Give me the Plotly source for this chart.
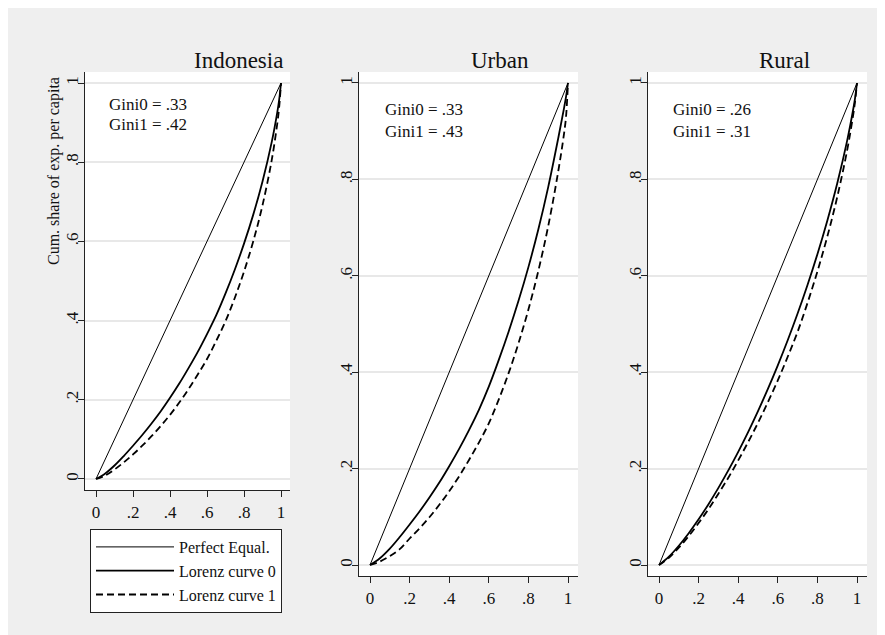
import plotly.graph_objects as go

# ---------------- data ----------------
p_share = [0, 0.05, 0.1, 0.15, 0.2, 0.25, 0.3, 0.35, 0.4, 0.45, 0.5,
           0.55, 0.6, 0.65, 0.7, 0.75, 0.8, 0.85, 0.9, 0.95, 0.98, 0.99, 1]

indo_l0 = [0, 0.014, 0.034, 0.058, 0.084, 0.111, 0.140, 0.171, 0.205, 0.241, 0.280,
           0.321, 0.366, 0.4137, 0.4686, 0.5285, 0.5943, 0.6676, 0.7514, 0.8513, 0.9266, 0.9576, 1]
indo_l1 = [0, 0.009, 0.024, 0.042, 0.062, 0.084, 0.108, 0.134, 0.162, 0.193, 0.227,
           0.264, 0.303, 0.349, 0.3984, 0.4572, 0.5238, 0.6004, 0.6913, 0.8059, 0.8983, 0.9387, 1]
urban_l0 = [0, 0.014, 0.034, 0.058, 0.084, 0.111, 0.140, 0.171, 0.205, 0.241, 0.280,
            0.322, 0.370, 0.425, 0.484, 0.548, 0.618, 0.696, 0.784, 0.884, 0.948, 0.971, 1]
urban_l1 = [0, 0.0072, 0.0186, 0.0329, 0.055, 0.076, 0.099, 0.125, 0.153, 0.184, 0.218,
            0.254, 0.294, 0.343, 0.398, 0.460, 0.530, 0.610, 0.703, 0.815, 0.895, 0.930, 1]
rural_l0 = [0, 0.0172, 0.0399, 0.066, 0.0948, 0.1262, 0.16, 0.1962, 0.2348, 0.2757, 0.3192,
            0.3653, 0.4142, 0.4662, 0.5217, 0.581, 0.6449, 0.7144, 0.7915, 0.88, 0.9434, 0.9683, 1]
rural_l1 = [0, 0.015, 0.036, 0.060, 0.087, 0.116, 0.148, 0.181, 0.217, 0.255, 0.295,
            0.338, 0.383, 0.432, 0.4838, 0.5436, 0.609, 0.6813, 0.7632, 0.8599, 0.9318, 0.9609, 1]

equal_x = [0, 1]
equal_y = [0, 1]

panel_titles = ["Indonesia", "Urban", "Rural"]
gini0 = [".33", ".33", ".26"]
gini1 = [".42", ".43", ".31"]

tick_vals = [0, 0.2, 0.4, 0.6, 0.8, 1]
tick_text = ["0", ".2", ".4", ".6", ".8", "1"]

legend_names = ["Perfect Equal.", "Lorenz curve 0", "Lorenz curve 1"]
y_title = "Cum. share of exp. per capita"

# ---------------- figure ----------------
OFF = 8                      # page offset of the plot div (body margin)
W, H = 885 - OFF, 635 - OFF  # figure fills the rest of the window
FONT = "Liberation Serif"
BG = "#efefef"
INK = "#111111"

def px(x):
    return (x - OFF) / W

def py(y):
    return 1 - (y - OFF) / H

fig = go.Figure()

curves = [(indo_l0, indo_l1), (urban_l0, urban_l1), (rural_l0, rural_l1)]
for i, (l0, l1) in enumerate(curves):
    ax = "" if i == 0 else str(i + 1)
    show = i == 0
    fig.add_trace(go.Scatter(x=equal_x, y=equal_y, mode="lines", name=legend_names[0],
                             line=dict(color="black", width=1), showlegend=show,
                             xaxis="x" + ax, yaxis="y" + ax, hoverinfo="skip"))
    fig.add_trace(go.Scatter(x=p_share, y=l0, mode="lines", name=legend_names[1],
                             line=dict(color="black", width=1.8, shape="spline"), showlegend=show,
                             xaxis="x" + ax, yaxis="y" + ax, hoverinfo="skip"))
    fig.add_trace(go.Scatter(x=p_share, y=l1, mode="lines", name=legend_names[2],
                             line=dict(color="black", width=1.8, dash="7px,4px", shape="spline"),
                             showlegend=show,
                             xaxis="x" + ax, yaxis="y" + ax, hoverinfo="skip"))

# panel geometry (page pixels)
x_dom = [(85, 290), (359, 578), (648, 867)]
y_dom = [(72, 490), (72, 576), (72, 576)]
x_rng = [(-0.0595, 1.0486), (-0.0556, 1.0505), (-0.0556, 1.0505)]
y_rng = [(-0.0278, 1.0278), (-0.0228, 1.0228), (-0.0228, 1.0228)]

axis_common = dict(showline=True, linecolor="#222222", linewidth=1.3, mirror=False,
                   ticks="outside", ticklen=6, tickwidth=1.2, tickcolor="#222222",
                   zeroline=False, tickvals=tick_vals, ticktext=tick_text,
                   tickfont=dict(family=FONT, size=17, color=INK), fixedrange=True)

layout_axes = {}
for i in range(3):
    ax = "" if i == 0 else str(i + 1)
    layout_axes["xaxis" + ax] = dict(axis_common,
                                     domain=[px(x_dom[i][0]), px(x_dom[i][1])],
                                     range=list(x_rng[i]), showgrid=False,
                                     anchor="y" + ax)
    layout_axes["yaxis" + ax] = dict(axis_common,
                                     domain=[py(y_dom[i][1]), py(y_dom[i][0])],
                                     range=list(y_rng[i]), showgrid=True,
                                     gridcolor="#e8e8e8", gridwidth=1.5,
                                     tickangle=-90, ticklabelstandoff=-7,
                                     anchor="x" + ax)

fig.update_layout(**layout_axes)

annotations = []
title_pos = [(238, 61), (500, 61), (784, 61)]
for i, t in enumerate(panel_titles):
    annotations.append(dict(text=t, x=px(title_pos[i][0]), y=py(title_pos[i][1]),
                            xref="paper", yref="paper", showarrow=False,
                            xanchor="center", yanchor="middle",
                            font=dict(family=FONT, size=23, color=INK)))

gini_pos = [(107, 104, 125), (383, 109, 132), (671, 109, 132)]
for i in range(3):
    gx, g0y, g1y = gini_pos[i]
    annotations.append(dict(text="Gini0 = " + gini0[i], x=px(gx), y=py(g0y),
                            xref="paper", yref="paper", showarrow=False,
                            xanchor="left", yanchor="middle",
                            font=dict(family=FONT, size=17, color=INK)))
    annotations.append(dict(text="Gini1 = " + gini1[i], x=px(gx), y=py(g1y),
                            xref="paper", yref="paper", showarrow=False,
                            xanchor="left", yanchor="middle",
                            font=dict(family=FONT, size=17, color=INK)))

annotations.append(dict(text=y_title, x=px(54), y=py(171), xref="paper", yref="paper",
                        showarrow=False, textangle=-90, xanchor="center", yanchor="middle",
                        font=dict(family=FONT, size=16, color=INK)))

fig.update_layout(
    width=W, height=H,
    margin=dict(l=0, r=0, t=0, b=0),
    paper_bgcolor=BG, plot_bgcolor="white",
    font=dict(family=FONT, color=INK),
    annotations=annotations,
    showlegend=True,
    legend=dict(x=px(90), y=py(529), xanchor="left", yanchor="top",
                bgcolor="white", bordercolor="#222222", borderwidth=1,
                font=dict(family=FONT, size=16, color=INK),
                itemwidth=78, tracegroupgap=0, traceorder="normal"),
)

fig.write_html("out.html")
